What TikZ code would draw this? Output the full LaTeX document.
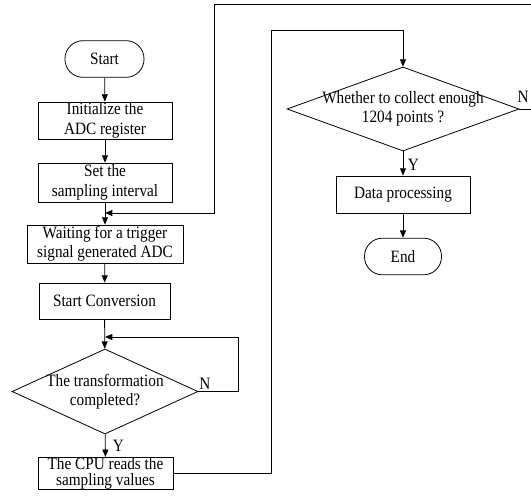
\documentclass[tikz,border=0pt]{standalone}
\usepackage{fontspec}
\setmainfont[FakeStretch=0.88]{Liberation Serif}
\usetikzlibrary{shapes.geometric,arrows.meta}
\begin{document}
\begin{tikzpicture}[x=0.75pt,y=-0.75pt,
 font=\fontsize{13}{14.5}\selectfont,
 line width=0.6pt,
 >={Triangle[length=5.5pt,width=4.5pt]},
 box/.style={draw, rectangle, inner sep=0pt, align=center},
 term/.style={draw, rectangle, rounded corners=13.5pt, inner sep=0pt, minimum height=27.5pt},
 dec/.style={draw, diamond, inner sep=0pt},
 lab/.style={inner sep=0pt}]
\clip (0,0) rectangle (531,497);
% left column
\node[term, minimum width=59.25pt] (start) at (104.5,59) {Start};
\node[box, minimum width=100.5pt, minimum height=27.75pt] (init) at (105,120.5) {Initialize the\\ADC register};
\node[box, minimum width=100.5pt, minimum height=29.25pt] (set) at (105,182.5) {Set the\\sampling interval};
\node[box, minimum width=117pt, minimum height=28.5pt] (wait) at (105,244) {Waiting for a trigger\\signal generated ADC};
\node[box, minimum width=98.25pt, minimum height=27pt] (conv) at (104.5,301) {Start Conversion};
\node[dec, minimum width=139.5pt, minimum height=63.75pt,
      label={[align=center]center:The transformation\\completed?}] (d1) at (105,391.5) {};
\node[box, minimum width=101.25pt, minimum height=22.5pt, font=\fontsize{13}{12.5}\selectfont] (cpu) at (105.5,473.5) {The CPU reads the\\sampling values};
% right column
\node[dec, minimum width=174pt, minimum height=63pt,
      label={[align=center]center:Whether to collect enough\\1204 points ?}] (d2) at (403,109) {};
\node[box, minimum width=100.5pt, minimum height=27.75pt] (proc) at (403,194.5) {Data processing};
\node[term, minimum width=57.75pt] (end) at (403,256.5) {End};
% labels
\node[lab] (n1) at (205,383.5) {N};
\node[lab] (y1) at (118.5,446) {Y};
\node[lab] (n2) at (523,97) {N};
\node[lab] (y2) at (413.5,164.5) {Y};
% junctions
\coordinate (j1) at (105,213);
\coordinate (j2) at (105,337);
% connectors
\draw[->] (start) -- (init);
\draw[->] (init) -- (set);
\draw[->] (set) -- (wait);
\draw[->] (wait) -- (conv);
\draw[->] (conv) -- (d1);
\draw[->] (d1.east) -- (238,391.5) -- (238,337) -- (j2);
\draw[->] (d1) -- (cpu);
\draw[->] (cpu.east) -- (271,473.5) -- (271,30) -- (403,30) -- (d2.north);
\draw[->] (d2) -- (proc);
\draw[->] (proc) -- (end);
\draw[->] (d2.east) -- (545,109) -- (545,4) -- (214,4) -- (214,213) -- (j1);
\end{tikzpicture}
\end{document}
